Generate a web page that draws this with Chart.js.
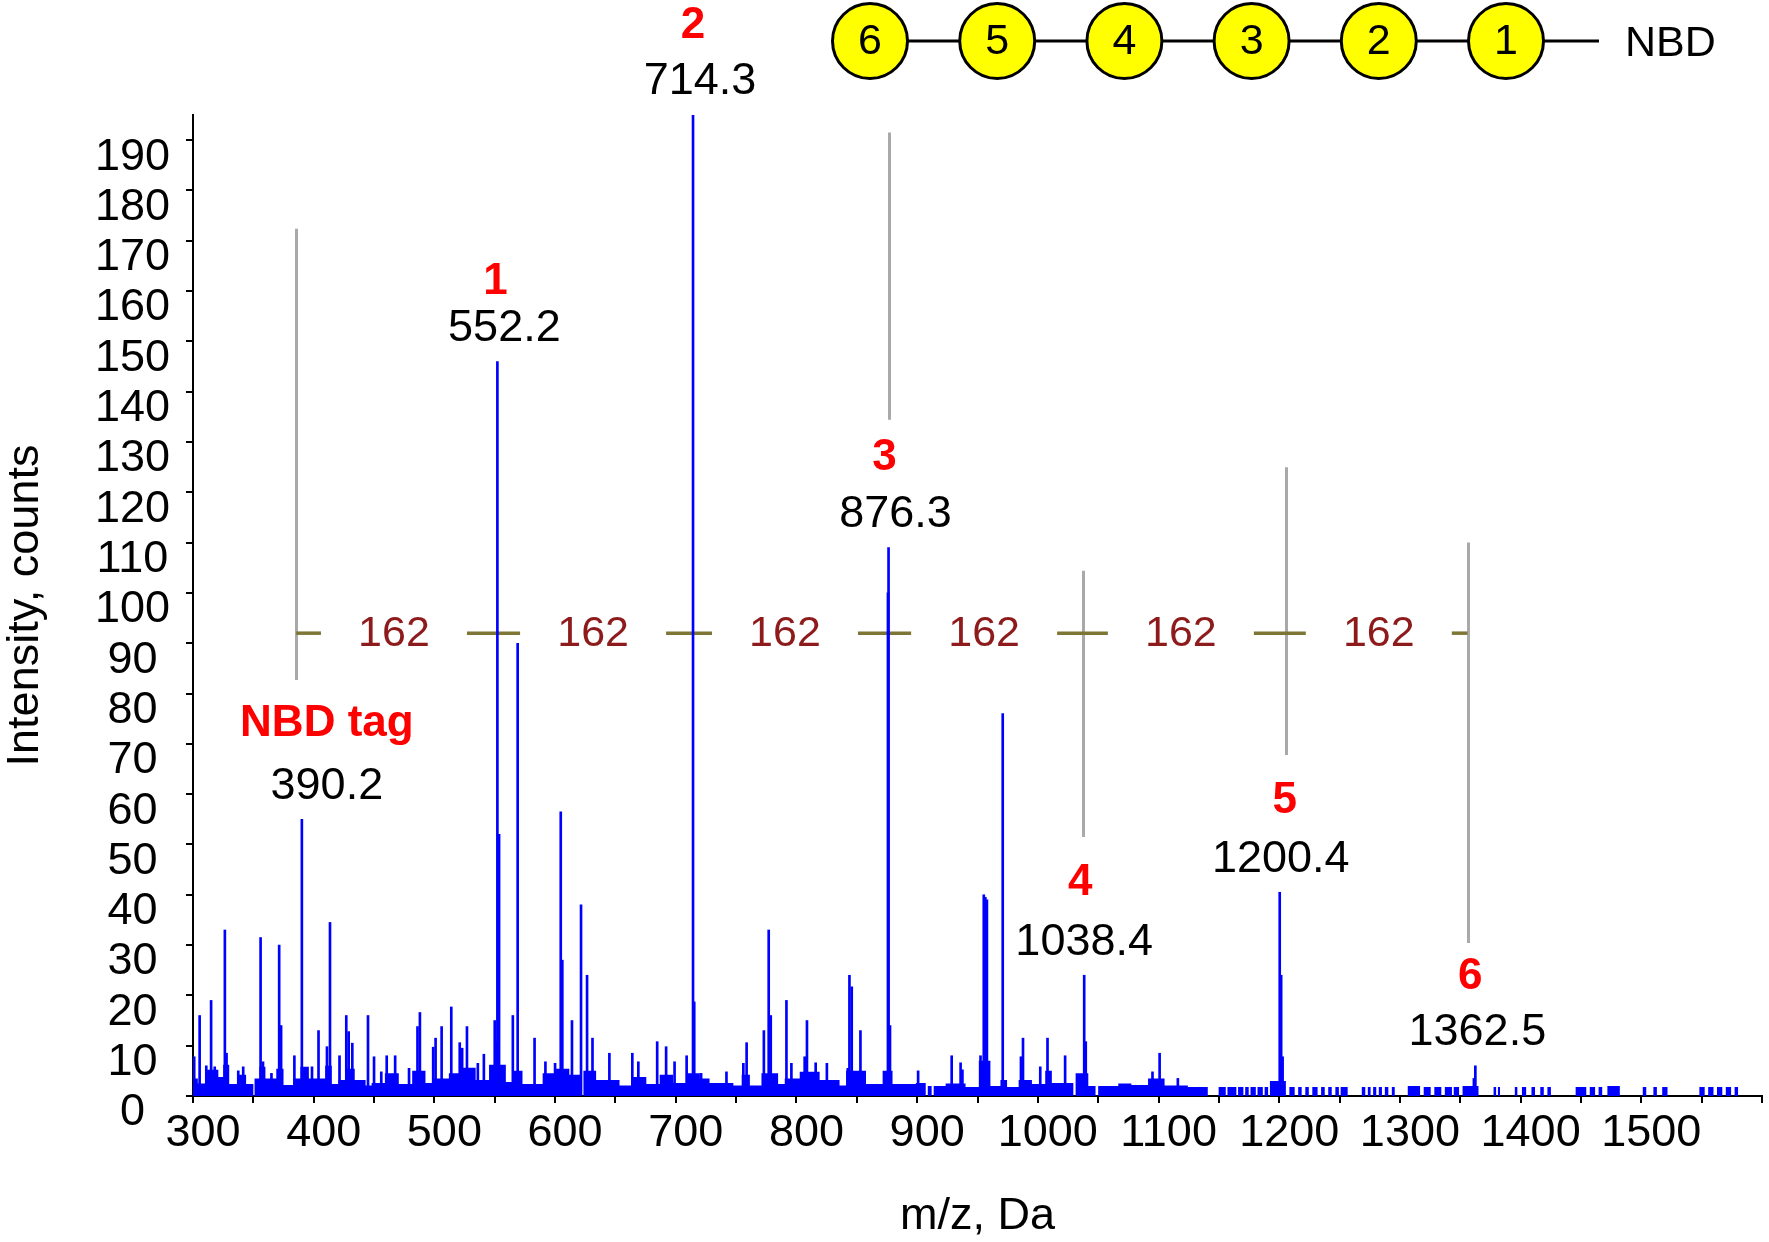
<!DOCTYPE html>
<html>
<head>
<meta charset="utf-8">
<script src="https://cdn.jsdelivr.net/npm/chart.js@4.4.1/dist/chart.umd.min.js"></script>
<style>
  html, body { margin: 0; padding: 0; background: #fff; }
  #wrap { width: 1769px; height: 1242px; }
</style>
</head>
<body>
<div id="wrap"><canvas id="spectrum"></canvas></div>
<script>
// MS/MS spectrum of an NBD-tagged hexasaccharide (stick peaks)
const peakMz = [301, 305.5, 311, 315, 318, 326.4, 327.8, 337.5, 341.6, 356, 358, 365, 371.4, 373, 384,
  390.2, 398.6, 404, 411, 413.5, 421.4, 427, 429, 432, 445, 450, 456, 460.5, 467.5, 479, 486, 488,
  499, 501, 506, 514, 521, 523, 527, 536, 541, 550, 551, 552.2, 553.6, 565, 569, 583, 592, 600,
  604.7, 606, 614, 621.5, 626.5, 631, 645, 664, 669, 684.6, 692, 699, 709, 714.3, 715.3,
  721, 742, 756, 758.7, 773, 777, 778.7, 791.7, 795.8, 806.8, 808.7, 815.9, 825.2, 842.5, 843.9,
  845.8, 853, 875.8, 876.3, 877.5, 900.8, 928.6, 936, 937.5, 952.5, 955.2, 956.5, 957.8, 970.9,
  986, 987.7, 1002, 1008, 1022.6, 1038.4, 1039.7, 1095, 1100.9, 1116,
  1200.4, 1201.6, 1202.8, 1361.3, 1362.5]
const peakCounts = [7.8, 16, 6, 19, 5.8, 33, 8.5, 5, 5.8, 31.5, 6.8, 4.5, 30, 14, 8,
  55, 5.8, 13, 9.8, 34.5, 8, 16, 12.8, 10.5, 16, 7.8, 4.8, 8, 8, 5.5, 13.8, 16.6,
  9.7, 11.5, 13.8, 17.7, 10.6, 9.5, 13.8, 6.5, 8.3, 15, 10.8, 146, 52, 16, 90, 11.5, 6.8, 6.5,
  56.5, 27, 15, 38, 24, 11.5, 8.5, 8.5, 6.8, 10.8, 9.8, 6.8, 8, 195, 18.7,
  4.5, 4.8, 6.5, 10.6, 13, 33, 16, 19, 6.5, 7.8, 15, 6.6, 6.5, 5.5, 24,
  21.7, 13, 100, 109, 14, 5, 8, 6.6, 5.2, 8, 40, 39.5, 39, 76,
  7.8, 11.5, 5.8, 11.5, 8, 24, 10.8, 4.8, 8.5, 3.5,
  40.5, 24, 7.8, 3.5, 6]

// noise floor, each level holds until the next m/z
const floorMz = [300, 304, 310, 321, 325, 330, 337, 344, 350, 351, 355, 360, 369, 375, 383, 389, 396,
  409.5, 415, 420.5, 426, 434, 443, 448, 459, 470.5, 481.6, 492.6, 498.2, 512, 520.4, 534.2, 545.3,
  559.2, 564.7, 573, 589.7, 600.8, 611.8, 621.6, 623.5, 634, 653.4, 664.5, 675.6, 686.7, 697.8,
  708.9, 720, 728, 747.7, 754.6, 761.4, 771, 784.8, 790.3, 802.7, 819.2, 835.7, 841.1, 857.6,
  871.4, 879.6, 898.9, 907.1, 908.8, 912, 913.7, 923.6, 940.1, 951.1, 960.7, 969, 974.5, 984.1,
  995.1, 1006.1, 1011.6, 1029.4, 1031.3, 1041.8, 1047.8, 1050, 1066.6, 1077.5, 1091.3, 1105,
  1124.3, 1140.8]
const floorCounts = [3.5, 2.5, 5.2, 3.8, 6.2, 2.4, 4.2, 2.4, 0, 3.5, 5.8, 3.5, 5.4, 2.2, 3.5, 5.8, 3.5,
  6, 2.4, 3.2, 5.4, 3.2, 2.1, 2.6, 4.5, 2.4, 5, 2.6, 3.5, 4.5, 5.6, 3.2, 6.2, 2.8, 5,
  2.4, 4.5, 5.4, 4.2, 0, 5, 3.2, 2.1, 3.8, 2.4, 4.2, 2.6,
  4.5, 3.5, 2.6, 2.1, 4.2, 2.1, 4.5, 2.4, 3.5, 4.8, 3.2, 2.1, 5, 2.4,
  5, 2.4, 2.6, 0, 2, 0, 2, 2.5, 1.8, 7, 2, 3.2, 1.8, 3.2,
  2.4, 5, 2.6, 0, 4.5, 2, 0, 2, 2.5, 2.2, 3.5, 2.1,
  1.8, 0]

// isolated low blips above ~1145
const blipStart = [1149.8, 1157.1, 1165.9, 1171.8, 1176.2, 1182.0, 1187.9, 1192.3, 1208.4, 1215.7,
  1221.6, 1227.4, 1234.7, 1240.6, 1246.5, 1250.9, 1268.4, 1273.4, 1277.8, 1282.5, 1287.5, 1293.3,
  1306.5, 1319.7, 1328.5, 1337.2, 1344.6, 1351.9, 1377.6, 1381.2, 1395.2, 1401.1, 1409.0, 1416.3,
  1422.2, 1445.6, 1457.3, 1464.6, 1471.9, 1501.2, 1510.0, 1517.3, 1548.1, 1555.4, 1562.7, 1570.0, 1577.3]
const blipEnd = [1155.7, 1164.5, 1170.3, 1174.7, 1180.6, 1186.4, 1190.8, 1205.5, 1212.8, 1218.6,
  1224.5, 1231.8, 1237.7, 1243.5, 1249.4, 1256.7, 1271.3, 1275.7, 1280.4, 1285.1, 1290.4, 1295.7,
  1316.7, 1325.5, 1334.3, 1343.1, 1349.0, 1365.1, 1379.7, 1382.9, 1397.3, 1404.6, 1411.9, 1419.2,
  1425.1, 1454.4, 1461.7, 1467.6, 1482.2, 1504.1, 1512.9, 1521.7, 1552.5, 1559.8, 1567.1, 1574.4, 1580.3]
const blipCounts = [1.8, 1.8, 1.8, 1.8, 1.8, 1.8, 1.8, 3, 1.8, 1.8,
  1.8, 1.8, 1.8, 1.8, 1.8, 1.8, 1.8, 1.8, 1.8, 1.8, 1.8, 1.8,
  2, 1.8, 1.8, 1.8, 1.8, 2, 1.8, 1.8, 1.8, 1.8, 1.8, 1.8,
  1.8, 1.8, 1.8, 1.8, 2, 1.8, 1.8, 1.8, 1.8, 1.8, 1.8, 1.8, 1.8]

// fragment ions
const fragMz = [390.2, 552.2, 714.3, 876.3, 1038.4, 1200.4, 1362.5]
const fragName = ['NBD tag', '1', '2', '3', '4', '5', '6']
const fragText = ['390.2', '552.2', '714.3', '876.3', '1038.4', '1200.4', '1362.5']

// grey guide lines and the 162 Da ladder
const guideMz = [385.5, 876.5, 1037, 1206, 1356]
const guideTop = [172.4, 191.5, 104.4, 125, 110]
const guideBottom = [82.7, 134.4, 51.5, 67.8, 30.4]
const ladderCounts = 92
const lossMz = [466.5, 631.5, 790.5, 955.5, 1118.5, 1282.5]
const lossText = '162'

const residues = ['6', '5', '4', '3', '2', '1']

// x ticks / y ticks
const xMin = 300, xMax = 1600, xStep = 50
const yMin = 0, yMax = 195, yStep = 10

const FONT = "'Liberation Sans', Arial, Helvetica, sans-serif"
const BLUE = '#0000FF'

// label placement (pixels)
const textDx = [25, 7, 7, 7, 0, 1, 2]
const nameDx = [25, -2, 0, -4, -4, 5, -5]
const textRise = 33
const nameRise = [62, 47, 56, 57, 59, 58, 56]

const peakData = peakMz.map((mz, i) => ({ x: mz, y: peakCounts[i] }))
const floorData = floorMz.map((mz, i) => ({ x: mz, y: floorCounts[i] }))
blipStart.forEach((s, i) => {
  floorData.push({ x: s, y: blipCounts[i] }, { x: blipEnd[i], y: 0 })
})

const line = (ctx, x1, y1, x2, y2) => {
  ctx.beginPath(); ctx.moveTo(x1, y1); ctx.lineTo(x2, y2); ctx.stroke()
}

const guides = {
  id: 'guides',
  beforeDatasetsDraw(chart) {
    const { ctx, scales: { x, y } } = chart
    ctx.save()
    ctx.strokeStyle = '#A9A9A9'
    ctx.lineWidth = 3
    guideMz.forEach((mz, i) => {
      const px = Math.round(x.getPixelForValue(mz)) + 0.5
      line(ctx, px, y.getPixelForValue(guideTop[i]), px, y.getPixelForValue(guideBottom[i]))
    })
    // 162 ladder, broken around each label
    const ly = y.getPixelForValue(ladderCounts)
    const xs = [x.getPixelForValue(guideMz[0])]
      .concat(lossMz.map(m => x.getPixelForValue(m)))
      .concat([x.getPixelForValue(guideMz[guideMz.length - 1])])
    const half = 73
    ctx.strokeStyle = '#7D7634'
    ctx.lineWidth = 3.5
    for (let i = 0; i < xs.length - 1; i++) {
      const a = i === 0 ? xs[0] : xs[i] + half
      const b = i === xs.length - 2 ? xs[xs.length - 1] : xs[i + 1] - half
      line(ctx, a, ly, b, ly)
    }
    ctx.restore()
  },
  afterDraw(chart) {
    const { ctx, scales: { x, y } } = chart
    ctx.save()
    ctx.textAlign = 'center'
    ctx.textBaseline = 'middle'

    // 162 labels
    ctx.fillStyle = '#8E1B1B'
    ctx.font = `43px ${FONT}`
    lossMz.forEach(m => ctx.fillText(lossText, x.getPixelForValue(m), y.getPixelForValue(ladderCounts) + 1))

    // fragment labels
    fragMz.forEach((mz, i) => {
      const top = y.getPixelForValue(peakCounts[peakMz.indexOf(mz)])
      const px = x.getPixelForValue(mz)
      const ty = top - textRise
      ctx.fillStyle = '#000'
      ctx.font = `45px ${FONT}`
      ctx.fillText(fragText[i], px + textDx[i], ty)
      ctx.fillStyle = '#FF0000'
      ctx.font = `bold 44px ${FONT}`
      ctx.fillText(fragName[i], px + nameDx[i], ty - nameRise[i])
    })

    // glycan cartoon
    const cy = 41, r = 37.5, x0 = 870, dx = 127.2
    ctx.strokeStyle = '#000'
    ctx.lineWidth = 3
    line(ctx, x0, cy, 1599, cy)
    ctx.font = `43px ${FONT}`
    residues.forEach((label, i) => {
      const cx = x0 + i * dx
      ctx.beginPath()
      ctx.arc(cx, cy, r, 0, Math.PI * 2)
      ctx.fillStyle = '#FFFF00'
      ctx.fill()
      ctx.stroke()
      ctx.fillStyle = '#000'
      ctx.fillText(label, cx, cy + 1)
    })
    ctx.textAlign = 'left'
    ctx.fillText('NBD', 1625, 44)
    ctx.restore()
  }
}

new Chart(document.getElementById('spectrum'), {
  type: 'bar',
  data: {
    datasets: [
      {
        type: 'bar',
        data: peakData,
        backgroundColor: BLUE,
        barThickness: 2,
        order: 1
      },
      {
        type: 'line',
        data: floorData,
        stepped: true,
        fill: 'origin',
        backgroundColor: BLUE,
        borderColor: 'transparent',
        pointRadius: 0,
        order: 2
      }
    ]
  },
  options: {
    responsive: true,
    maintainAspectRatio: false,
    devicePixelRatio: 1,
    animation: false,
    layout: { padding: { top: 115, right: 7, left: 0, bottom: 0 } },
    plugins: { legend: { display: false }, tooltip: { enabled: false } },
    scales: {
      x: {
        type: 'linear',
        min: xMin,
        max: xMax,
        offset: false,
        afterFit: s => { s.height = 146 },
        border: { display: true, color: '#000', width: 2 },
        grid: { display: true, offset: false, drawOnChartArea: false, drawTicks: true, tickLength: 7, color: '#000', lineWidth: 2 },
        ticks: {
          stepSize: xStep,
          autoSkip: false,
          maxRotation: 0,
          padding: 4,
          labelOffset: 10,
          color: '#000',
          font: { family: FONT, size: 45 },
          callback: v => (v % 100 === 0 && v < xMax) ? v : ''
        },
        title: {
          display: true,
          text: 'm/z, Da',
          color: '#000',
          font: { family: FONT, size: 45, lineHeight: 1 },
          padding: { top: 0, bottom: 3 }
        }
      },
      y: {
        min: yMin,
        max: yMax,
        afterFit: s => { s.width = 193 },
        border: { display: true, color: '#000', width: 2 },
        grid: { display: true, drawOnChartArea: false, drawTicks: true, tickLength: 7, color: '#000', lineWidth: 2 },
        ticks: {
          stepSize: yStep,
          includeBounds: false,
          autoSkip: false,
          crossAlign: 'center',
          padding: 16,
          labelOffset: 17,
          color: '#000',
          font: { family: FONT, size: 45 }
        },
        title: {
          display: true,
          text: 'Intensity, counts',
          color: '#000',
          font: { family: FONT, size: 45, lineHeight: 1 },
          padding: { top: 3, bottom: 0 }
        }
      }
    }
  },
  plugins: [guides]
})
</script>
</body>
</html>
